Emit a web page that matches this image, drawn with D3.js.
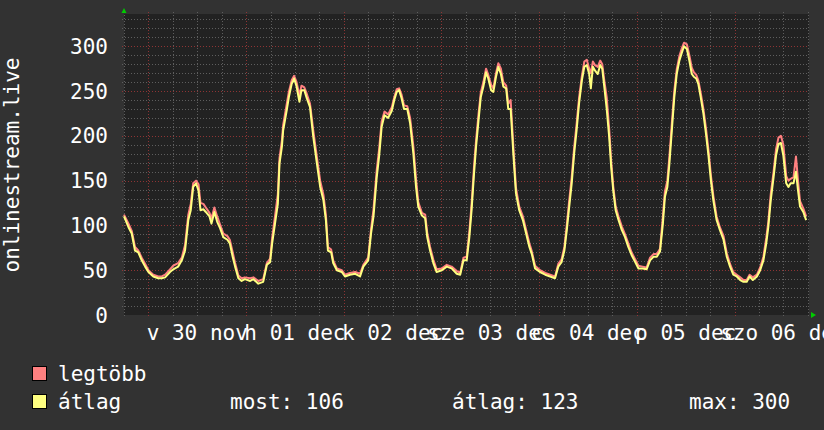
<!DOCTYPE html>
<html><head><meta charset="utf-8">
<script src="https://cdn.jsdelivr.net/npm/d3@7"></script>
<style>
html,body{margin:0;padding:0;background:#323232;}
svg{display:block;}
text{font-family:"DejaVu Sans Mono",monospace;fill:#ffffff;font-size:21px;}
</style></head><body>
<svg id="c" width="824" height="430"></svg>
<script>
// ---- data ----
const startTime = Date.UTC(2025, 10, 29, 18, 0); // Nov 29 18:00
const spanHours = 168.3;
const hours = [0,1.1,1.9,2.7,3.5,4.35,5.2,6.0,7.2,8.4,9.3,10.1,11.3,12.1,13.3,14.2,15.0,15.8,16.4,17.0,17.7,18.3,18.8,19.5,20.1,21.0,21.5,22.2,22.9,23.6,
24.4,25.4,26.0,26.7,27.3,28.1,28.9,29.7,31.0,31.8,33.0,34.2,35.1,35.9,36.4,37.1,37.8,38.2,38.8,39.1,40.0,40.5,41.2,41.8,42.4,43.1,43.6,44.3,44.9,45.7,
46.5,47.4,48.2,49.0,49.6,50.1,50.9,51.4,52.3,53.5,54.3,55.5,56.8,58.0,58.8,60.0,60.7,61.3,62.1,62.7,63.3,64.0,64.9,65.8,66.4,67.0,67.6,68.2,68.8,69.6,
70.3,71.1,71.75,72.3,73.2,74.0,74.5,75.2,76.0,76.8,78.1,79.3,80.5,81.75,82.6,83.4,84.2,84.85,85.4,86.0,86.5,87.1,87.65,88.3,88.95,89.5,90.2,90.75,91.4,91.97,
92.6,93.2,93.9,94.4,95.0,95.7,96.3,97.1,98.0,98.8,99.6,100.2,101.0,102.2,103.5,104.7,105.9,106.7,107.5,108.2,108.8,109.3,110.0,110.6,111.2,111.8,112.5,113.1,113.7,114.3,
114.7,115.2,115.7,116.4,117.0,117.5,118.0,118.6,119.2,119.7,120.2,120.8,121.5,122.3,123.1,123.9,124.7,125.6,126.4,127.4,128.4,129.25,130.1,130.9,131.7,132.4,132.9,133.5,134.0,134.6,
135.2,135.8,136.45,137.0,137.6,138.3,138.9,139.5,140.0,140.6,141.1,141.7,142.35,143.0,143.6,144.2,144.8,145.6,146.4,147.3,148.1,148.9,149.7,150.55,151.4,152.2,153.0,153.7,154.5,155.5,
156.3,157.1,157.8,158.3,158.9,159.6,160.2,160.8,161.4,162.0,162.7,163.25,163.8,164.5,165.1,165.6,166.1,166.9,167.6];
const avgValues = [110,98,91,72,70,61,54,48,43,41,41,42,48,51,54,61,72,106,117,143,147,139,117,118,115,110,102,115,104,97,
87,84,80,65,54,41,38,40,38,40,35,37,56,59,80,102,124,169,188,206,229,243,258,264,255,238,251,251,242,232,
199,169,143,128,106,72,70,58,50,48,43,45,46,43,54,61,91,110,154,178,210,223,220,228,240,249,251,242,230,230,
214,180,143,121,111,108,87,72,58,48,50,54,52,46,45,61,61,87,117,158,188,217,243,255,271,264,251,249,266,277,
269,255,253,230,230,177,136,117,106,91,76,68,52,48,45,43,41,54,59,72,95,117,147,180,206,236,262,277,279,269,
253,277,273,269,279,275,255,230,199,165,139,117,106,95,87,76,67,59,52,52,51,61,65,65,71,102,132,143,169,206,
243,269,284,292,300,297,284,269,266,264,258,243,225,202,178,150,128,106,95,84,65,54,45,43,39,37,37,43,39,43,
50,61,80,98,128,154,178,191,192,178,147,143,147,147,160,139,121,115,106];
const maxValues = [112,102,94,76,72,64,57,50,45,43,43,45,51,55,58,64,78,112,124,147,150,146,125,124,120,114,108,120,110,101,
91,88,84,70,58,44,41,42,41,42,38,40,58,63,86,110,135,175,195,212,236,249,262,267,260,245,256,254,247,236,
206,176,150,134,112,76,73,61,52,50,45,47,48,46,56,64,96,118,162,186,216,227,224,232,243,252,253,246,234,233,
220,188,152,126,114,112,92,76,62,51,52,56,54,49,47,64,65,93,124,166,195,224,248,260,275,268,257,253,270,281,
275,260,256,236,240,185,142,121,110,95,80,71,55,50,47,45,43,57,62,76,101,124,154,187,213,242,267,283,285,275,
270,283,279,277,284,280,262,243,208,172,144,121,110,99,90,80,70,62,55,54,53,64,68,68,74,110,138,150,177,214,
250,274,289,297,304,302,290,276,271,268,262,248,230,208,184,156,133,110,98,88,69,57,48,45,42,39,39,45,42,45,
53,65,86,104,135,160,185,198,200,190,155,150,152,154,177,150,127,119,110];
const yTickValues = [0, 50, 100, 150, 200, 250, 300];
const dayLabels = ["v 30 nov", "h 01 dec", "k 02 dec", "sze 03 dec", "cs 04 dec", "p 05 dec", "szo 06 dec"];
const yTitle = "onlinestream.live";
const seriesNames = ["legtöbb", "átlag"];
const seriesColors = ["#ff8080", "#ffff80"];
const statLabels = ["most: 106", "átlag: 123", "max: 300"];

if (hours.length !== avgValues.length || hours.length !== maxValues.length) {
  throw new Error("length mismatch " + hours.length + " " + avgValues.length + " " + maxValues.length);
}

// ---- layout ----
const L = 124, R = 809, T = 14, B = 315;
const svg = d3.select("#c");
svg.append("rect").attr("width", 824).attr("height", 430).attr("fill", "#323232");

const t0 = new Date(startTime), t1 = new Date(startTime + spanHours * 3600e3);
const x = d3.scaleUtc().domain([t0, t1]).range([L, R]);
const y = d3.scaleLinear().domain([0, 336]).range([B, T]);

svg.append("rect").attr("x", L).attr("y", T).attr("width", R - L).attr("height", B - T).attr("fill", "#222222");

const grid = svg.append("g");
// horizontal grid
d3.range(10, 336, 10).forEach(v => {
  const major = v % 50 === 0;
  grid.append("line").attr("x1", L - 2).attr("x2", R).attr("y1", Math.round(y(v)) + 0.5).attr("y2", Math.round(y(v)) + 0.5)
    .attr("stroke", major ? "#8e3434" : "#5e5e5e").attr("stroke-dasharray", "1,2");
});
// vertical grid
const sixHours = d3.utcHour.every(6).range(t0, t1);
sixHours.forEach(d => {
  const major = d.getUTCHours() === 0;
  const xx = Math.round(x(d)) + 0.5;
  grid.append("line").attr("x1", xx).attr("x2", xx).attr("y1", T - 2).attr("y2", B + 2)
    .attr("stroke", major ? "#8e3434" : "#5e5e5e").attr("stroke-dasharray", "1,2");
});

// series
const pts = hours.map((h, i) => ({ t: new Date(startTime + h * 3600e3), a: avgValues[i], m: maxValues[i] }));
const lineMax = d3.line().x(d => x(d.t)).y(d => y(d.m));
const lineAvg = d3.line().x(d => x(d.t)).y(d => y(d.a));
svg.append("path").datum(pts).attr("d", lineMax).attr("fill", "none").attr("stroke", seriesColors[0]).attr("stroke-width", 2).attr("stroke-linejoin", "round");
svg.append("path").datum(pts).attr("d", lineAvg).attr("fill", "none").attr("stroke", seriesColors[1]).attr("stroke-width", 2).attr("stroke-linejoin", "round");

// arrows
svg.append("path").attr("d", `M${L - 2.5},13 L${L + 2.5},13 L${L},8 Z`).attr("fill", "#00cc00");
svg.append("path").attr("d", `M${R + 2},312 L${R + 2},318 L${R + 7},315 Z`).attr("fill", "#00cc00");

// y tick labels
yTickValues.forEach(v => {
  svg.append("text").attr("x", 108).attr("y", y(v)).attr("dy", "0.36em").attr("text-anchor", "end").text(v);
});

// x labels at noon of each day
const days = d3.utcDay.range(d3.utcDay.ceil(t0), t1);
days.forEach((d, i) => {
  const noon = d3.utcHour.offset(d, 12);
  svg.append("text").attr("x", x(noon)).attr("y", 339.5).attr("text-anchor", "middle").text(dayLabels[i]);
});

// y title
svg.append("text").attr("transform", "translate(18.5,165) rotate(-90)").attr("text-anchor", "middle").text(yTitle);

// legend
seriesNames.forEach((n, i) => {
  const yy = 366 + i * 28;
  svg.append("rect").attr("x", 32.5).attr("y", yy + 0.5).attr("width", 14).attr("height", 14)
    .attr("fill", seriesColors[i]).attr("stroke", "#000").attr("stroke-width", 1);
  svg.append("text").attr("x", 58).attr("y", yy + 15).text(n);
});
const statX = [230, 452, 689];
statLabels.forEach((s, i) => {
  svg.append("text").attr("x", statX[i]).attr("y", 409).text(s);
});
</script>
</body></html>
